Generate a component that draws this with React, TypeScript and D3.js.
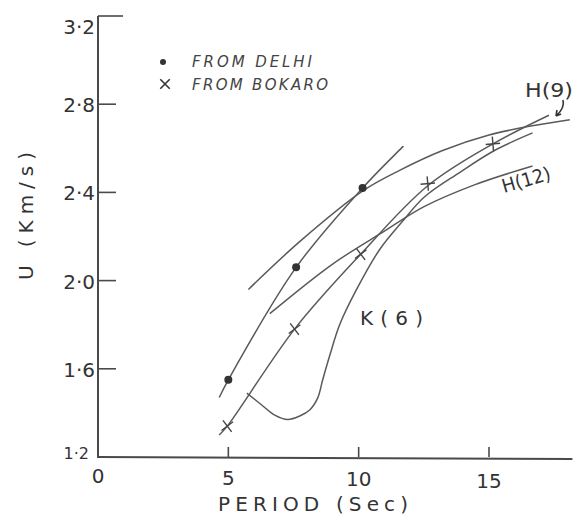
import React, { useRef, useEffect } from 'react';
import * as d3 from 'd3';

// tick values and labels
const yTicks = [1.2, 1.6, 2.0, 2.4, 2.8, 3.2];
const yTickLabels = ['1·2', '1·6', '2·0', '2·4', '2·8', '3·2'];
const xTicks = [0, 5, 10, 15];
const xTickLabels = ['0', '5', '10', '15'];

// observed points
const delhiPeriod = [5.0, 7.6, 10.15];
const delhiU = [1.55, 2.06, 2.42];
const bokaroPeriod = [4.96, 7.54, 10.08, 12.65, 15.15];
const bokaroU = [1.34, 1.78, 2.12, 2.44, 2.62];

// drawn curves [period, U]
const delhiCurve = [[4.65, 1.47], [5.0, 1.55], [7.6, 2.06], [10.15, 2.42], [11.72, 2.61]];
const bokaroCurve = [[4.65, 1.3], [4.96, 1.34], [7.54, 1.78], [10.08, 2.12], [12.65, 2.43], [15.15, 2.62], [17.3, 2.75]];
const h9Curve = [[5.77, 1.96], [7.77, 2.18], [10.2, 2.41], [11.57, 2.5], [13.22, 2.59], [15.0, 2.66], [16.55, 2.7], [18.1, 2.73]];
const h12Curve = [[6.59, 1.85], [9.0, 2.075], [11.0, 2.225], [12.49, 2.334], [14.44, 2.434], [16.67, 2.52]];
const k6Curve = [
    [5.71, 1.49], [6.28, 1.436], [6.78, 1.39], [7.28, 1.37], [7.74, 1.386], [8.12, 1.413],
    [8.43, 1.468], [8.62, 1.55], [8.89, 1.66], [9.27, 1.8], [9.92, 1.96], [10.8, 2.14],
    [11.69, 2.27], [12.53, 2.38], [13.87, 2.49], [15.21, 2.59], [16.67, 2.67],
];

const INK = '#4a4a4a';
const FONT = 'DejaVu Sans, sans-serif';

const App = () => {
    const svgRef = useRef<SVGSVGElement>(null);

    useEffect(() => {
        const svg = d3.select(svgRef.current);
        svg.selectAll('*').remove();

        const x = d3.scaleLinear().domain([0, 15]).range([98, 489]);
        const y = d3.scaleLinear().domain([1.2, 3.2]).range([457, 16]);

        svg.append('rect').attr('width', 576).attr('height', 516).attr('fill', '#fff');

        // axes
        svg.append('line')
            .attr('x1', x(0)).attr('x2', x(0))
            .attr('y1', y(3.2)).attr('y2', y(1.2) + 1)
            .attr('stroke', INK).attr('stroke-width', 2);
        svg.append('line')
            .attr('x1', x(0)).attr('x2', x(18.2))
            .attr('y1', y(1.2)).attr('y2', y(1.2) + 2)
            .attr('stroke', INK).attr('stroke-width', 2);

        // y ticks (inward)
        svg.append('g').selectAll('line')
            .data(yTicks.filter(v => v > 1.2))
            .enter().append('line')
            .attr('x1', x(0)).attr('x2', d => x(0) + (d === 3.2 ? 25 : 18))
            .attr('y1', d => y(d)).attr('y2', d => y(d))
            .attr('stroke', INK).attr('stroke-width', 1.6);

        svg.append('g').selectAll('text')
            .data(yTicks)
            .enter().append('text')
            .attr('x', d => (d === 1.2 ? 89 : 95))
            .attr('y', d => (d === 3.2 ? y(d) + 18 : d === 1.2 ? y(d) + 2 : y(d) + 8))
            .attr('text-anchor', 'end')
            .attr('font-family', FONT)
            .attr('font-size', d => (d === 1.2 ? 16 : 20))
            .attr('fill', '#333')
            .text((d, i) => yTickLabels[i]);

        // x ticks (upward)
        svg.append('g').selectAll('line')
            .data(xTicks.filter(v => v > 0))
            .enter().append('line')
            .attr('x1', d => x(d)).attr('x2', d => x(d))
            .attr('y1', y(1.2)).attr('y2', y(1.2) - 10)
            .attr('stroke', INK).attr('stroke-width', 1.6);

        svg.append('g').selectAll('text')
            .data(xTicks)
            .enter().append('text')
            .attr('x', d => x(d))
            .attr('y', (d, i) => 483 + i * 1.5)
            .attr('text-anchor', 'middle')
            .attr('font-family', FONT)
            .attr('font-size', 20)
            .attr('fill', '#333')
            .text((d, i) => xTickLabels[i]);

        // axis titles
        svg.append('text')
            .attr('x', 218).attr('y', 511)
            .attr('font-family', FONT).attr('font-size', 20).attr('fill', '#333')
            .attr('textLength', 190).attr('lengthAdjust', 'spacing')
            .text('PERIOD (Sec)');

        svg.append('text')
            .attr('transform', 'translate(33,280) rotate(-90)')
            .attr('font-family', FONT).attr('font-size', 20).attr('fill', '#333')
            .attr('textLength', 128).attr('lengthAdjust', 'spacing')
            .text('U (Km/s)');

        // curves
        const line = d3.line<number[]>()
            .x(d => x(d[0]))
            .y(d => y(d[1]))
            .curve(d3.curveCatmullRom.alpha(0.5));

        [delhiCurve, bokaroCurve, h9Curve, h12Curve, k6Curve].forEach(c => {
            svg.append('path')
                .attr('d', line(c))
                .attr('fill', 'none')
                .attr('stroke', '#5a5a5a')
                .attr('stroke-width', 1.5);
        });

        // points
        svg.append('g').selectAll('circle')
            .data(delhiPeriod)
            .enter().append('circle')
            .attr('cx', d => x(d))
            .attr('cy', (d, i) => y(delhiU[i]))
            .attr('r', 4)
            .attr('fill', '#333');

        const cross = d3.symbol().type(d3.symbolX).size(70);
        svg.append('g').selectAll('path')
            .data(bokaroPeriod)
            .enter().append('path')
            .attr('d', cross())
            .attr('transform', (d, i) => `translate(${x(d)},${y(bokaroU[i])}) rotate(${i > 2 ? 40 : 8})`)
            .attr('fill', 'none')
            .attr('stroke', '#444')
            .attr('stroke-width', 1.4);

        // legend
        svg.append('circle').attr('cx', 163).attr('cy', 62).attr('r', 3).attr('fill', '#333');
        svg.append('path')
            .attr('d', d3.symbol().type(d3.symbolX).size(60)())
            .attr('transform', 'translate(165,84)')
            .attr('fill', 'none').attr('stroke', '#333').attr('stroke-width', 1.6);
        svg.append('text')
            .attr('x', 192).attr('y', 67)
            .attr('font-family', FONT).attr('font-size', 15).attr('font-style', 'italic').attr('fill', '#444')
            .attr('textLength', 120).attr('lengthAdjust', 'spacing')
            .text('FROM DELHI');
        svg.append('text')
            .attr('x', 192).attr('y', 90)
            .attr('font-family', FONT).attr('font-size', 15).attr('font-style', 'italic').attr('fill', '#444')
            .attr('textLength', 136).attr('lengthAdjust', 'spacing')
            .text('FROM BOKARO');

        // curve labels
        svg.append('text')
            .attr('x', 525).attr('y', 97)
            .attr('font-family', FONT).attr('font-size', 20).attr('fill', '#333')
            .attr('textLength', 48).attr('lengthAdjust', 'spacingAndGlyphs')
            .text('H(9)');
        svg.append('path')
            .attr('d', 'M563,100 Q565,108 556,116 M556,116 L557,110 M556,116 L561,114')
            .attr('fill', 'none').attr('stroke', '#333').attr('stroke-width', 1.6);

        svg.append('text')
            .attr('transform', 'translate(504,193) rotate(-16)')
            .attr('font-family', FONT).attr('font-size', 19).attr('fill', '#333')
            .attr('textLength', 50).attr('lengthAdjust', 'spacingAndGlyphs')
            .text('H(12)');

        svg.append('text')
            .attr('x', 360).attr('y', 325)
            .attr('font-family', FONT).attr('font-size', 20).attr('fill', '#333')
            .attr('textLength', 63).attr('lengthAdjust', 'spacing')
            .text('K(6)');
    }, []);

    return (
        <svg
            ref={svgRef}
            width={576}
            height={516}
            style={{ position: 'absolute', left: 0, top: 0 }}
        />
    );
};

export default App;
